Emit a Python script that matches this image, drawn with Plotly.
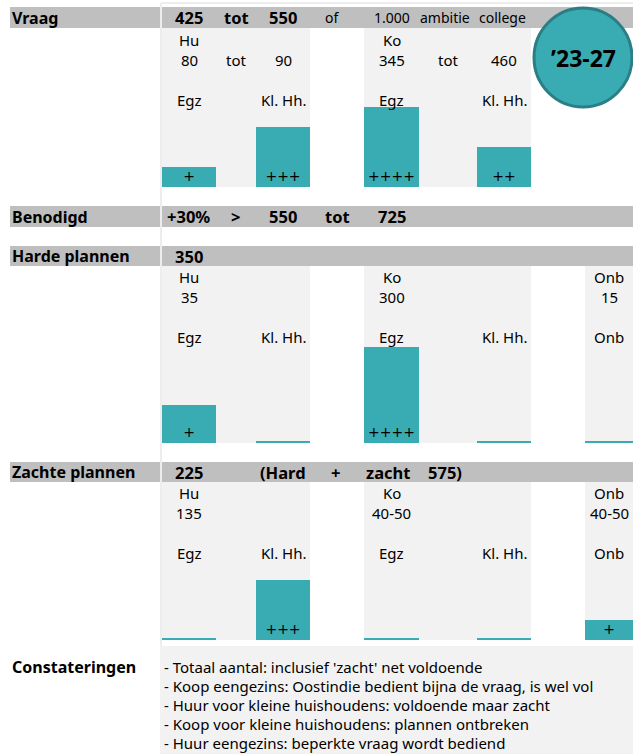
import plotly.graph_objects as go

# ---------------- data ----------------
categories = ["Hu Egz", "Hu Kl. Hh.", "Ko Egz", "Ko Kl. Hh.", "Onb"]
vraag_cats = ["Hu Egz", "Hu Kl. Hh.", "Ko Egz", "Ko Kl. Hh."]
vraag_scores = [1, 3, 4, 2]
vraag_plus = ["+", "+++", "++++", "++"]
harde_scores = [1.9, 0, 4.8, 0, 0]
harde_plus = ["+", "", "++++", "", ""]
zachte_scores = [0, 3, 0, 0, 1]
zachte_plus = ["", "+++", "", "", "+"]

row_titles = ["Vraag", "Benodigd", "Harde plannen", "Zachte plannen"]
vraag_header = [("425", True), ("tot", True), ("550", True), ("of", False),
                ("1.000", False), ("ambitie", False), ("college", False)]
benodigd_header = ["+30%", ">", "550", "tot", "725"]
harde_header = ["350"]
zachte_header = ["225", "(Hard", "+", "zacht", "575)"]

vraag_groups = [("Hu", "80", "tot", "90"), ("Ko", "345", "tot", "460")]
harde_groups = [("Hu", "35"), ("Ko", "300"), ("Onb", "15")]
zachte_groups = [("Hu", "135"), ("Ko", "40-50"), ("Onb", "40-50")]
cat_labels = ["Egz", "Kl. Hh.", "Egz", "Kl. Hh.", "Onb"]

findings = [
    "- Totaal aantal: inclusief 'zacht' net voldoende",
    "- Koop eengezins: Oostindie bedient bijna de vraag, is wel vol",
    "- Huur voor kleine huishoudens: voldoende maar zacht",
    "- Koop voor kleine huishoudens: plannen ontbreken",
    "- Huur eengezins: beperkte vraag wordt bediend",
]
period = "\u201923-27"

# ---------------- layout constants (pixels) ----------------
W, H = 633, 754
TEAL = "#38ABB3"
TEAL_DARK = "#2A7E84"
HDR = "#BFBFBF"
COLBG = "#F2F2F2"
FONT = "Noto Sans"
LAB_SIZE = 15
HDR_SIZE = 16.5
col_x = {"Hu Egz": 189, "Hu Kl. Hh.": 283, "Ko Egz": 391.5, "Ko Kl. Hh.": 504, "Onb": 609}
col_w = {"Hu Egz": 54, "Hu Kl. Hh.": 54, "Ko Egz": 55, "Ko Kl. Hh.": 54, "Onb": 48}
mid_x = {"Hu": 236, "Ko": 448}
grp_x = {"Hu": 189, "Ko": 391.5, "Onb": 609}
blocks = {"Hu": (162, 310), "Ko": (364, 531), "Onb": (585, 633)}
UNIT = 20.0   # pixels per score unit
BASE = -0.1   # bars start slightly below zero so a zero shows as a thin baseline

panels = [  # (top, bottom)
    (28, 187), (266, 443), (482, 640)
]
header_rows = [(7, 28), (206, 227), (246, 266), (462, 482)]

fig = go.Figure()

def ydom(top, bot):
    return [1 - bot / H, 1 - top / H]

shapes = []
annos = []

def rect(x0, y0, x1, y1, color, layer="below"):
    shapes.append(dict(type="rect", xref="x", yref="y", x0=x0, x1=x1, y0=y0, y1=y1,
                       fillcolor=color, line=dict(width=0), layer=layer))

def txt(x, y, s, size=LAB_SIZE, bold=False, xanchor="center", color="black", font=FONT):
    annos.append(dict(x=x, y=y, xref="x", yref="y", text=("<b>%s</b>" % s) if bold else s,
                      showarrow=False, xanchor=xanchor, yanchor="middle",
                      font=dict(family=font, size=size, color=color)))

# separator lines
shapes.append(dict(type="line", xref="x", yref="y", x0=161, x1=161, y0=3, y1=646,
                   line=dict(color="#EDEDED", width=2), layer="below"))
shapes.append(dict(type="line", xref="x", yref="y", x0=161, x1=633, y0=3, y1=3,
                   line=dict(color="#EDEDED", width=2), layer="below"))

# header rows
for (y0, y1), title in zip(header_rows, row_titles):
    rect(10, y0, 160, y1, HDR)
    rect(162, y0, 633, y1, HDR)
    txt(10, (y0 + y1) / 2, title, size=16, bold=True, xanchor="left")

# header texts
yv = sum(header_rows[0]) / 2
for (s, b), x in zip(vraag_header, [189, 236, 283, 332, 392, 445, 502]):
    txt(x, yv, s, size=HDR_SIZE if b else 14, bold=b)
yb = sum(header_rows[1]) / 2
for s, x in zip(benodigd_header, [188, 235, 283, 337, 392]):
    txt(x, yb, s, size=HDR_SIZE, bold=True)
yh = sum(header_rows[2]) / 2
for s, x in zip(harde_header, [189]):
    txt(x, yh, s, size=HDR_SIZE, bold=True)
yz = sum(header_rows[3]) / 2
for s, x in zip(zachte_header, [189, 283, 335, 388, 445]):
    txt(x, yz, s, size=HDR_SIZE, bold=True)

# column backgrounds
for i, (top, bot) in enumerate(panels):
    for g, (x0, x1) in blocks.items():
        if i == 0 and g == "Onb":
            continue
        rect(x0, top, x1, bot, COLBG)

# panel labels
lab_y = [(39.5, 59.5, 100), (276.5, 297, 337), (492.5, 513, 553)]
for g in vraag_groups:
    t1, n1, mid, n2 = g
    y1, y2, y3 = lab_y[0]
    txt(grp_x[t1], y1, t1)
    pre = "Hu" if t1 == "Hu" else "Ko"
    txt(col_x[pre + " Egz"], y2, n1)
    txt(mid_x[pre], y2, mid)
    txt(col_x[pre + " Kl. Hh."], y2, n2)
for c, lab in zip(vraag_cats, cat_labels[:4]):
    txt(col_x[c], lab_y[0][2], lab)
for pi, groups in [(1, harde_groups), (2, zachte_groups)]:
    y1, y2, y3 = lab_y[pi]
    for g, n in groups:
        txt(grp_x[g], y1, g)
        txt(grp_x[g], y2, n)
    for c, lab in zip(categories, cat_labels):
        txt(col_x[c], y3, lab)

# bars
series = [(vraag_cats, vraag_scores, vraag_plus),
          (categories, harde_scores, harde_plus),
          (categories, zachte_scores, zachte_plus)]
for i, ((cats, vals, plus), (top, bot)) in enumerate(zip(series, panels)):
    yname = "y%d" % (i + 2)
    # thin baseline under every bar slot (visible where the value is zero)
    for c in cats:
        shapes.append(dict(type="rect", xref="x", yref=yname,
                           x0=col_x[c] - col_w[c] / 2, x1=col_x[c] + col_w[c] / 2,
                           y0=BASE, y1=0, fillcolor=TEAL, line=dict(width=0), layer="above"))
    fig.add_trace(go.Bar(
        x=[col_x[c] for c in cats], y=vals, width=[col_w[c] for c in cats],
        base=BASE, marker=dict(color=TEAL, line=dict(width=0)),
        text=plus, textposition="inside", insidetextanchor="start",
        constraintext="none", textangle=0,
        textfont=dict(family="DejaVu Sans", size=14, color="black"),
        xaxis="x", yaxis=yname, hoverinfo="skip", showlegend=False))
    fig.layout["yaxis%d" % (i + 2)] = dict(
        domain=ydom(top, bot), range=[BASE, BASE + (bot - top) / UNIT],
        anchor="x", visible=False, fixedrange=True)

# circle
shapes.append(dict(type="circle", xref="x", yref="y", x0=534, x1=632, y0=8, y1=107,
                   fillcolor=TEAL, line=dict(color=TEAL_DARK, width=3), layer="above"))
txt(583, 58, period, size=23, bold=True)

# Constateringen
rect(160, 646, 633, 754, COLBG)
txt(10, 667, "Constateringen", size=16, bold=True, xanchor="left")
for k, line in enumerate(findings):
    txt(162, 667 + 19 * k, line, size=15, xanchor="left")

fig.update_layout(
    width=W, height=H, margin=dict(l=0, r=0, t=0, b=0),
    paper_bgcolor="white", plot_bgcolor="rgba(0,0,0,0)",
    xaxis=dict(range=[0, W], visible=False, fixedrange=True, domain=[0, 1]),
    yaxis=dict(range=[H, 0], visible=False, fixedrange=True, domain=[0, 1]),
    shapes=shapes, annotations=annos, bargap=0,
)
fig.write_html("out.html", config={"displayModeBar": False},
               post_script="document.body.style.margin='0';document.body.style.overflow='hidden';")
